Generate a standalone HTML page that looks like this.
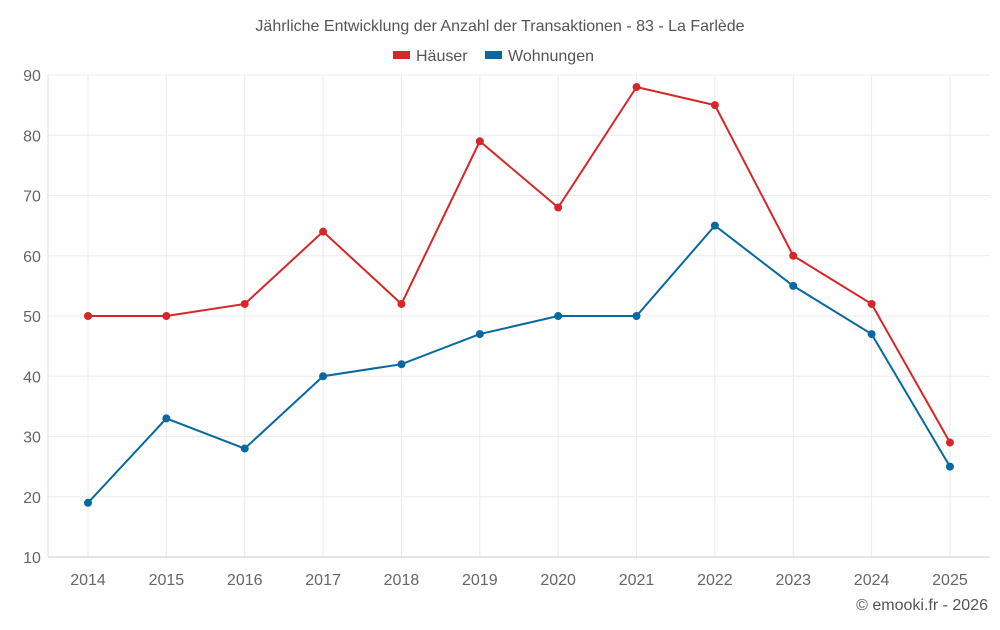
<!DOCTYPE html>
<html><head><meta charset="utf-8">
<style>
body{margin:0;background:#fff;font-family:"Liberation Sans",sans-serif;}
svg text{font-family:"Liberation Sans",sans-serif;}
</style></head>
<body>
<svg id="chart" width="1000" height="625">
<text x="500" y="31" text-anchor="middle" font-size="16" fill="#555">Jährliche Entwicklung der Anzahl der Transaktionen - 83 - La Farlède</text>
<g>
<g><rect x="393" y="51" width="17" height="8" fill="#d62728"/><text x="416" y="61" font-size="16" fill="#555">Häuser</text></g>
<g><rect x="485" y="51" width="17" height="8" fill="#0868a0"/><text x="508" y="61" font-size="16" fill="#555">Wohnungen</text></g>
</g>
<g id="grid"></g>
<g id="axes"></g>
<g id="series"></g>
<text x="988" y="610" text-anchor="end" font-size="16" fill="#555">© emooki.fr - 2026</text>
</svg>
<script>
const years=[2014,2015,2016,2017,2018,2019,2020,2021,2022,2023,2024,2025];
const haeuser=[50,50,52,64,52,79,68,88,85,60,52,29];
const wohnungen=[19,33,28,40,42,47,50,50,65,55,47,25];
const yTicks=[10,20,30,40,50,60,70,80,90];
const NS="http://www.w3.org/2000/svg";
const x0=88,xStep=78.36,yTop=75,yBot=557,left=48,right=990;
const xs=i=>x0+i*xStep;
const ys=v=>yBot-(v-10)/80*(yBot-yTop);
function mk(t,a,p){const e=document.createElementNS(NS,t);for(const k in a)e.setAttribute(k,a[k]);p.appendChild(e);return e;}
const grid=document.getElementById('grid'),axes=document.getElementById('axes'),ser=document.getElementById('series');
yTicks.forEach(v=>{
  const l=mk('line',{x1:left,x2:right,y1:ys(v),y2:ys(v),stroke:'#ebebeb'},grid);
  
  
  const t=mk('text',{x:32,y:ys(v)+6,'text-anchor':'middle','font-size':16,fill:'#666'},axes);
  t.textContent=v;
  
  
});
years.forEach((y,i)=>{
  const l=mk('line',{x1:xs(i),x2:xs(i),y1:yTop,y2:yBot,stroke:'#ebebeb'},grid);
  
  
  const t=mk('text',{x:xs(i),y:585,'text-anchor':'middle','font-size':16,fill:'#666'},axes);
  t.textContent=y;
  
  
});
const ax=mk('line',{x1:left,x2:right,y1:yBot,y2:yBot,stroke:'#ccc'},axes);


const ay=mk('line',{x1:left,x2:left,y1:yTop,y2:yBot,stroke:'#ddd'},axes);


function draw(vals,color,name){
  const p=mk('polyline',{points:vals.map((v,i)=>xs(i)+','+ys(v)).join(' '),fill:'none',stroke:color,'stroke-width':2},ser);
  
  
  vals.forEach((v,i)=>{
    const c=mk('circle',{cx:xs(i),cy:ys(v),r:4,fill:color},ser);
    
    
  });
}
draw(haeuser,'#d62728','haeuser');
draw(wohnungen,'#0868a0','wohnungen');
</script>
</body></html>
